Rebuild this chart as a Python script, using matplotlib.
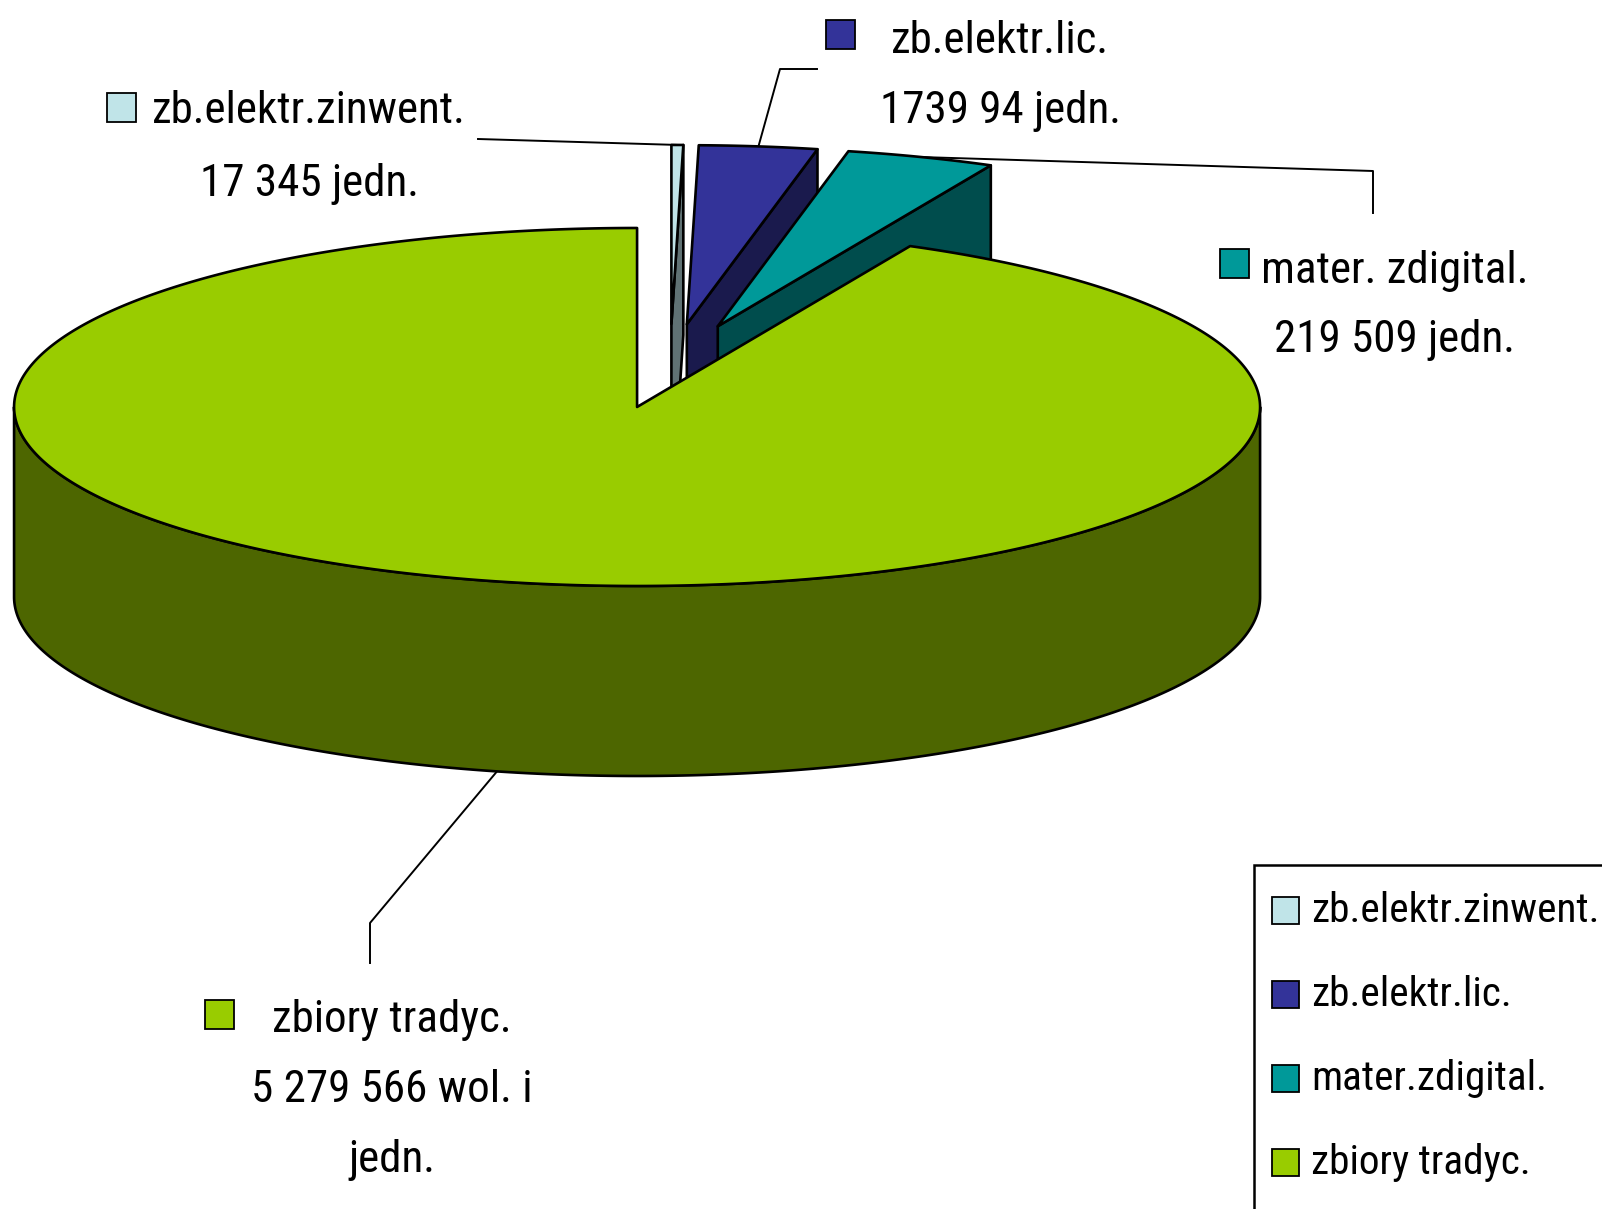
import numpy as np
import matplotlib
matplotlib.use("Agg")
import matplotlib.pyplot as plt
from matplotlib.patches import Polygon, Rectangle
from matplotlib import font_manager

# ---------------- data ----------------
categories = ['zb.elektr.zinwent.', 'zb.elektr.lic.', 'mater.zdigital.', 'zbiory tradyc.']
values = [17345, 173994, 219509, 5279566]
label_names = ['zb.elektr.zinwent.', 'zb.elektr.lic.', 'mater. zdigital.', 'zbiory tradyc.']
label_values = ['17 345 jedn.', '1739 94 jedn.', '219 509 jedn.', '5 279 566 wol. i\njedn.']

# ---------------- style / layout ----------------
top_colors = ['#C0E4E8', '#333399', '#009999', '#99CC00']
side_colors = ['#607274', '#1A1A4D', '#004D4D', '#4D6600']

W, H = 1602, 1209
cx, cy = 670.0, 366.0      # pie centre (pixels)
A, B = 623.0, 179.0        # ellipse semi-axes
DEPTH = 190.0
EXPLODE = 0.235

names = {f.name for f in font_manager.fontManager.ttflist}
FONT = 'DejaVu Sans'
for cand in ['Liberation Sans Narrow', 'Arial Narrow', 'Roboto Condensed', 'Archivo Narrow', 'Liberation Sans']:
    if cand in names:
        FONT = cand
        break
plt.rcParams['font.family'] = [FONT, 'DejaVu Sans']
plt.rcParams['font.weight'] = 'normal'

fig = plt.figure(figsize=(W / 100, H / 100), dpi=100)
ax = fig.add_axes([0, 0, 1, 1])
ax.set_xlim(0, W)
ax.set_ylim(H, 0)
ax.axis('off')

EDGE = dict(edgecolor='black', linewidth=1.9, joinstyle='round')

fr = np.array(values, dtype=float) / np.sum(values)
ends = np.cumsum(fr) * 2 * np.pi
starts = ends - fr * 2 * np.pi
mids = (starts + ends) / 2


def pt(ox, oy, t, r=1.0, z=0.0):
    return (ox + A * r * np.sin(t), oy - B * r * np.cos(t) + z)


def arc(ox, oy, t1, t2, z=0.0):
    n = max(4, int(abs(t2 - t1) / (2 * np.pi) * 720))
    ts = np.linspace(t1, t2, n)
    return [pt(ox, oy, t, 1.0, z) for t in ts]


centers = []
for m in mids:
    centers.append((cx + EXPLODE * A * np.sin(m), cy - EXPLODE * B * np.cos(m)))

order = np.argsort(-np.cos(mids))  # back first
for i in order:
    ox, oy = centers[i]
    t1, t2 = starts[i], ends[i]
    for t, vis in ((t1, np.sin(t1) < -1e-6), (t2, np.sin(t2) > 1e-6)):
        if vis:
            poly = [(ox, oy), pt(ox, oy, t), pt(ox, oy, t, 1.0, DEPTH), (ox, oy + DEPTH)]
            ax.add_patch(Polygon(poly, closed=True, facecolor=side_colors[i], **EDGE))
    lo, hi = max(t1, np.pi / 2), min(t2, 3 * np.pi / 2)
    if hi > lo:
        top = arc(ox, oy, lo, hi)
        bot = arc(ox, oy, lo, hi, DEPTH)[::-1]
        ax.add_patch(Polygon(top + bot, closed=True, facecolor=side_colors[i], **EDGE))
    poly = [(ox, oy)] + arc(ox, oy, t1, t2)
    ax.add_patch(Polygon(poly, closed=True, facecolor=top_colors[i], **EDGE))

# font sizes fitted to the reference text widths
renderer = fig.canvas.get_renderer()


def fit_size(s, target_px):
    t = ax.text(0, 0, s, fontsize=30)
    w = t.get_window_extent(renderer=renderer).width
    t.remove()
    return 30 * target_px / w


FS = fit_size('zb.elektr.zinwent.', 315)
LFS = fit_size('zb.elektr.zinwent.', 288)

# ---------------- data labels ----------------
SQ = 29
# (text centre x, first baseline y, line spacing, square x, square y)
label_layout = [
    (309, 123, 73, 107, 93),
    (1000, 53, 70, 826, 20),
    (1395, 283, 69, 1220, 249),
    (392, 1032, 70, 205, 1000),
]
leader_elbows = [
    [(478, 139)],
    [(817, 69), (780, 69)],
    [(1373, 213), (1373, 171)],
    [(370, 963), (370, 923)],
]

for i in range(len(values)):
    tx, by, sp, sx, sy = label_layout[i]
    lines = [label_names[i]] + label_values[i].split('\n')
    for k, s in enumerate(lines):
        ax.text(tx, by + k * sp, s, fontsize=FS, ha='center', va='baseline', color='black')
    ax.add_patch(Rectangle((sx, sy), SQ, SQ, facecolor=top_colors[i], edgecolor='black', linewidth=1.3))
    ox, oy = centers[i]
    m = mids[i]
    end = pt(ox, oy, m) if np.cos(m) >= 0 else pt(ox, oy, m, 1.0, DEPTH)
    xs = [p[0] for p in leader_elbows[i]] + [end[0]]
    ys = [p[1] for p in leader_elbows[i]] + [end[1]]
    ax.plot(xs, ys, color='black', linewidth=1.4, zorder=0.5)

# ---------------- legend ----------------
ax.add_patch(Rectangle((1254, 865), 600, 600, facecolor='white', edgecolor='black', linewidth=1.8, zorder=3))
for i, name in enumerate(categories):
    yc = 911 + i * 84
    ax.add_patch(Rectangle((1272, yc - 14), 27, 27, facecolor=top_colors[i], edgecolor='black',
                           linewidth=1.3, zorder=4))
    ax.text(1311, yc, name, fontsize=LFS, ha='left', va='center', color='black', zorder=5)

fig.savefig('out.png', dpi=100)
